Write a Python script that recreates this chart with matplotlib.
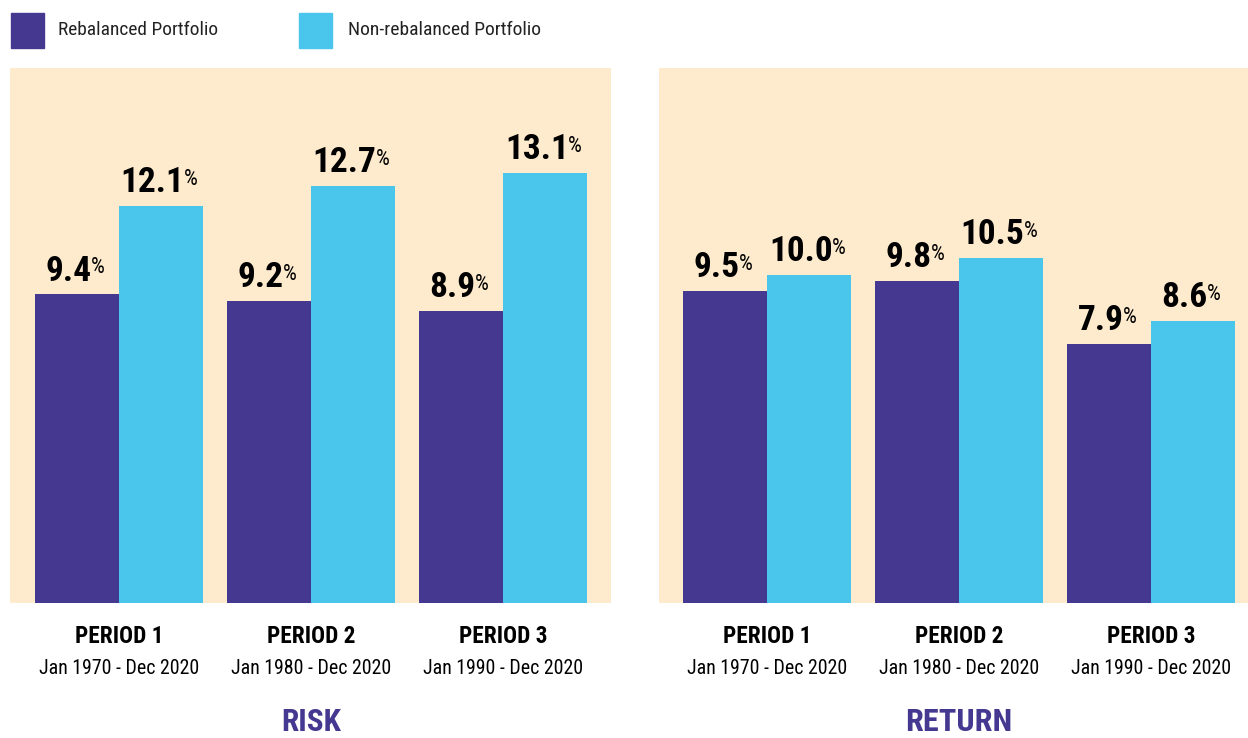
import matplotlib.pyplot as plt
import numpy as np
from matplotlib.patches import Rectangle

plt.rcParams['font.family'] = ['Roboto Condensed', 'DejaVu Sans']
plt.rcParams['font.stretch'] = 'condensed'

periods = ['PERIOD 1', 'PERIOD 2', 'PERIOD 3']
ranges = ['Jan 1970 - Dec 2020', 'Jan 1980 - Dec 2020', 'Jan 1990 - Dec 2020']
series = ['Rebalanced Portfolio', 'Non-rebalanced Portfolio']
risk_reb = [9.4, 9.2, 8.9]
risk_non = [12.1, 12.7, 13.1]
ret_reb = [9.5, 9.8, 7.9]
ret_non = [10.0, 10.5, 8.6]

purple = '#443891'
cyan = '#4AC6EC'
cream = '#FEEBCD'

fig = plt.figure(figsize=(12.48, 7.38), dpi=100)
renderer = fig.canvas.get_renderer()


def fit(t, px):
    # scale the font size so the text spans about px pixels
    bb = t.get_window_extent(renderer)
    t.set_fontsize(t.get_fontsize() * px / bb.width)
    return t.get_fontsize()


# sizes measured once on sample strings
probe = fig.text(0, 0, '12.1', fontsize=20, fontweight='bold')
val_size = fit(probe, 64)
probe.remove()
probe = fig.text(0, 0, ranges[0], fontsize=15)
date_size = fit(probe, 160)
probe.remove()
probe = fig.text(0, 0, periods[0], fontsize=16, fontweight='bold')
per_size = fit(probe, 88)
probe.remove()

ax1 = fig.add_axes([10/1248, 135/738, 601/1248, 535/738])
ax2 = fig.add_axes([659/1248, 135/738, 589/1248, 535/738])

w = 0.4375
x = np.arange(3)


def panel(ax, reb, non, title, xlim, title_px):
    ax.set_facecolor(cream)
    ax.bar(x - w/2, reb, w, color=purple)
    ax.bar(x + w/2, non, w, color=cyan)
    for xs, vals in [(x - w/2, reb), (x + w/2, non)]:
        for xi, v in zip(xs, vals):
            t = ax.annotate(f'{v:.1f}', (xi, v), xytext=(-6, 5),
                            textcoords='offset points', ha='center',
                            va='bottom', fontsize=val_size, fontweight='bold')
            ax.annotate('%', (1, 1), xycoords=t, xytext=(-0.5, -2),
                        textcoords='offset points', ha='left', va='top',
                        fontsize=val_size * 0.62)
    ax.set_xlim(*xlim)
    ax.set_ylim(0, 16.3)
    ax.set_yticks([])
    ax.set_xticks([])
    for s in ax.spines.values():
        s.set_visible(False)
    for xi, p, r in zip(x, periods, ranges):
        ax.annotate(p, (xi, 0), xytext=(0, -24), textcoords='offset points',
                    ha='center', va='center', fontsize=per_size,
                    fontweight='bold')
        ax.annotate(r, (xi, 0), xytext=(0, -47), textcoords='offset points',
                    ha='center', va='center', fontsize=date_size)
    tt = ax.annotate(title, (1, 0), xytext=(0, -86), textcoords='offset points',
                     ha='center', va='center', fontsize=20, fontweight='bold',
                     color=purple)
    fit(tt, title_px)


panel(ax1, risk_reb, risk_non, 'RISK', (-0.568, 2.562), 60)
panel(ax2, ret_reb, ret_non, 'RETURN', (-0.5625, 2.505), 107)

for lx, tx, c, label, px in [(11, 58, purple, series[0], 160),
                             (299, 348, cyan, series[1], 193)]:
    fig.patches.append(Rectangle((lx/1248, 1 - 48/738), 33/1248, 35/738,
                                 transform=fig.transFigure, color=c))
    lt = fig.text(tx/1248, 1 - 30/738, label, ha='left', va='center',
                  fontsize=15, color='#222222')
    fit(lt, px)

fig.savefig('out.png', dpi=100, facecolor='white')
